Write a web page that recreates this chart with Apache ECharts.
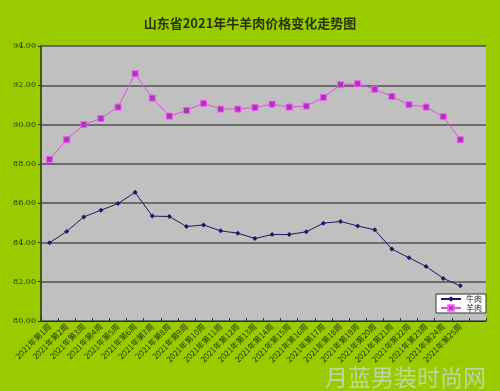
<!DOCTYPE html>
<html><head><meta charset="utf-8">
<script src="https://cdn.jsdelivr.net/npm/echarts@6/dist/echarts.min.js"></script>
<style>html,body{margin:0;padding:0;background:#99cc00}#c{width:500px;height:391px}</style>
</head><body><div id="c"></div>
<script>
var categories = [];
for (var i = 1; i <= 25; i++) categories.push('2021年第' + i + '周');
categories.push('');
var beef = [83.98,84.56,85.30,85.64,85.98,86.55,85.34,85.32,84.81,84.89,84.59,84.47,84.20,84.40,84.40,84.54,84.98,85.07,84.84,84.64,83.66,83.22,82.78,82.17,81.79];
var mutton = [88.23,89.23,90.00,90.31,90.89,92.59,91.35,90.43,90.72,91.08,90.79,90.79,90.87,91.04,90.89,90.94,91.38,92.03,92.08,91.80,91.43,91.01,90.89,90.40,89.23];
var seriesNames = ['牛肉', '羊肉'];
var title = '山东省2021年牛羊肉价格变化走势图';
var watermark = '月蓝男装时尚网';

var chart = echarts.init(document.getElementById('c'));
chart.setOption({
  animation: false,
  backgroundColor: '#99cc00',
  title: {
    text: title, left: 'center', top: 12,
    textStyle: {fontFamily: 'Noto Sans CJK SC', fontWeight: 'bold', fontSize: 13, color: '#2b3300'}
  },
  grid: {left: 41, right: 14, top: 46, bottom: 70, show: true, backgroundColor: '#c0c0c0', borderWidth: 0},
  legend: {
    orient: 'vertical', right: 14, top: 294,
    backgroundColor: '#ffffff', borderColor: '#333333', borderWidth: 1,
    padding: [1, 4, 1, 4], itemGap: 1, itemWidth: 20, itemHeight: 7,
    textStyle: {fontSize: 8, color: '#222', fontFamily: 'Noto Sans CJK SC'},
    data: seriesNames
  },
  xAxis: {
    type: 'category', data: categories, boundaryGap: true,
    axisLine: {lineStyle: {color: '#333300', width: 1}},
    axisTick: {show: true, inside: true, length: 3, lineStyle: {color: '#333'}},
    axisLabel: {rotate: 45, interval: 0, fontSize: 8, color: '#2b3300', margin: 4, fontFamily: 'Noto Sans CJK SC'},
    splitLine: {show: false}
  },
  yAxis: {
    type: 'value', min: 80, max: 94, interval: 2,
    axisLine: {show: true, lineStyle: {color: '#4a5a00', width: 2}},
    axisTick: {show: true, length: 3, lineStyle: {color: '#333'}},
    axisLabel: {formatter: function(v){return v.toFixed(2);}, fontSize: 8, color: '#2b3300', fontFamily: 'DejaVu Serif', margin: 5},
    splitLine: {show: true, lineStyle: {color: '#505050', width: 1.5}}
  },
  series: [
    {name: seriesNames[0], type: 'line', data: beef, symbol: 'diamond', symbolSize: 5,
     lineStyle: {color: '#1a1a6a', width: 1}, itemStyle: {color: '#1a1a6a'}},
    {name: seriesNames[1], type: 'line', data: mutton, symbol: 'rect', symbolSize: 6,
     lineStyle: {color: '#e050e0', width: 1}, itemStyle: {color: '#b030c0', borderColor: '#f060f0', borderWidth: 1}}
  ],
  graphic: [{
    type: 'text', right: 14, bottom: 2,
    style: {text: watermark, fontSize: 23, fill: 'rgba(205,212,205,0.8)', fontFamily: 'Noto Sans CJK SC'}
  }]
});
</script></body></html>
